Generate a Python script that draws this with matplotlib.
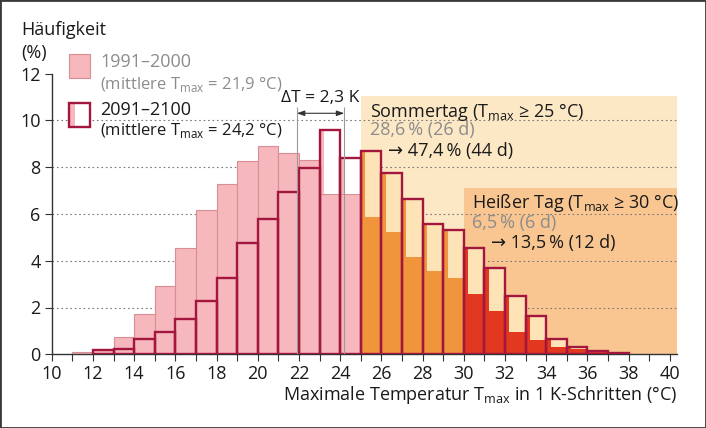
import numpy as np
import matplotlib
matplotlib.use('Agg')
import matplotlib.pyplot as plt
from matplotlib.patches import Rectangle

plt.rcParams['font.family'] = ['Open Sans', 'DejaVu Sans']
plt.rcParams['mathtext.fontset'] = 'custom'
plt.rcParams['mathtext.rm'] = 'Open Sans'
plt.rcParams['mathtext.fallback'] = 'stix'

# ─────────────────────────────────────────────
# Data (Häufigkeit in %, 1-K-Klassen, linke Kante)
# ─────────────────────────────────────────────
bin_left = np.arange(11, 38)
freq_1991_2000 = [0.11, 0.24, 0.74, 1.72, 2.92, 4.56, 6.17, 7.29, 8.28, 8.90,
                  8.60, 8.30, 6.87, 6.87, 5.87, 5.23, 4.15, 3.58, 3.26, 2.58,
                  1.84, 0.95, 0.63, 0.31, 0.21, 0.08, 0.02]
freq_2091_2100 = [0.00, 0.18, 0.24, 0.65, 0.97, 1.51, 2.28, 3.28, 4.76, 5.77,
                  6.94, 7.95, 9.60, 8.39, 8.70, 7.74, 6.62, 5.56, 5.31, 4.56,
                  3.70, 2.49, 1.62, 0.64, 0.33, 0.14, 0.07]
mean_old, mean_new = 21.9, 24.2
summer_thr, hot_thr = 25, 30

# ─────────────────────────────────────────────
# Farben
# ─────────────────────────────────────────────
PINK, PINK_EDGE = '#f6b8bc', '#d98e96'
ORANGE, RED = '#f0953c', '#e2381f'
CRIMSON = '#a3173e'
CREAM = '#fde3b6'
BG_SUMMER, BG_HOT = '#fde8c6', '#f9c691'
GREY_TXT = '#8c8c8c'
AX_COL = '#333333'

W, H = 706, 428
fig = plt.figure(figsize=(W / 100, H / 100), dpi=100)
ax = fig.add_axes([51.7 / W, 1 - 354.3 / H, (677 - 51.7) / W, (354.3 - 73.5) / H])

x = bin_left.astype(float)
hist = np.array(freq_1991_2000)
fut = np.array(freq_2091_2100)

base_col = [PINK if b < summer_thr else (ORANGE if b < hot_thr else RED) for b in bin_left]
edge_col = [PINK_EDGE if b < summer_thr else c for b, c in zip(bin_left, base_col)]
top_fill = ['white' if b < summer_thr else CREAM for b in bin_left]

# Hintergrund Sommertag / Heißer Tag
ax.add_patch(Rectangle((summer_thr, 0), 40.35 - summer_thr, 11.04, color=BG_SUMMER, lw=0, zorder=0.5))
ax.add_patch(Rectangle((hot_thr, 0), 40.35 - hot_thr, 7.1, color=BG_HOT, lw=0, zorder=0.6))

# Gitterlinien
ax.hlines([2, 4, 6, 8, 10], 10, 40.35, colors='#7a7a7a', linestyles=(0, (1.5, 2.5)), lw=0.8, zorder=1)

# Balken
ax.bar(x, hist, 1, align='edge', color=base_col, edgecolor=edge_col, lw=0.8, zorder=2)
upper = np.maximum(fut - hist, 0)
ax.bar(x, upper, 1, bottom=hist, align='edge', color=base_col, lw=0, zorder=2.1)
ax.bar(x + 0.22, upper, 0.78, bottom=hist, align='edge', color=top_fill, lw=0, zorder=2.2)
m = fut > 0
ax.bar(x[m], fut[m], 1, align='edge', fill=False, edgecolor=CRIMSON, lw=1.7, zorder=3)

# ΔT
ax.vlines([mean_old, mean_new], 0, 10.55, colors='#9a9a9a', lw=0.8, zorder=4)
ax.annotate('', xy=(mean_old, 10.3), xytext=(mean_new, 10.3),
            arrowprops=dict(arrowstyle='<|-|>,head_length=0.45,head_width=0.16',
                            color=AX_COL, lw=0.8, shrinkA=0, shrinkB=0), zorder=5)
ax.text((mean_old + mean_new) / 2, 10.94, '\u0394T = 2,3 K', ha='center', va='center', fontsize=12.5, color='#1a1a1a')

# Beschriftungen der Bereiche
fs = 13
ax.text(25.45, 10.37, r'Sommertag (T$_{\mathrm{max}}$ ≥ 25 °C)', ha='left', va='center', fontsize=fs, color='#1a1a1a', zorder=6)
ax.text(25.45, 9.59, '28,6\u2009% (26 d)', ha='left', va='center', fontsize=fs, color=GREY_TXT, zorder=6)
ax.text(26.3, 8.69, '\u2192 47,4\u2009% (44 d)', ha='left', va='center', fontsize=fs, color='#1a1a1a', zorder=6)
ax.text(30.4, 6.47, r'Heißer Tag (T$_{\mathrm{max}}$ ≥ 30 °C)', ha='left', va='center', fontsize=fs, color='#1a1a1a', zorder=6)
ax.text(30.4, 5.61, '6,5\u2009% (6 d)', ha='left', va='center', fontsize=fs, color=GREY_TXT, zorder=6)
ax.text(31.3, 4.76, '\u2192 13,5\u2009% (12 d)', ha='left', va='center', fontsize=fs, color='#1a1a1a', zorder=6)

# Achsen
ax.set_xlim(10, 40.35)
ax.set_ylim(0, 12)
for s in ['top', 'right']:
    ax.spines[s].set_visible(False)
for s in ['left', 'bottom']:
    ax.spines[s].set_color(AX_COL)
    ax.spines[s].set_linewidth(1.0)
ax.set_xticks(np.arange(10, 41, 2))
ax.set_xticks(np.arange(10, 41, 1), minor=True)
ax.set_yticks(np.arange(0, 13, 2))
ax.tick_params(axis='both', which='both', direction='out', color=AX_COL, width=0.8, labelsize=13, labelcolor='#1a1a1a')
ax.tick_params(axis='x', which='both', length=5, pad=3)
ax.tick_params(axis='y', length=5, pad=3)


def fx(px):
    return px / W


def fy(py):
    return 1 - py / H


fig.text(fx(677), fy(395), r'Maximale Temperatur T$_{\mathrm{max}}$ in 1 K-Schritten (°C)',
         ha='right', va='center', fontsize=13, color='#1a1a1a')
fig.text(fx(21), fy(30), 'Häufigkeit', ha='left', va='center', fontsize=13, color='#1a1a1a')
fig.text(fx(21), fy(53), '(%)', ha='left', va='center', fontsize=13, color='#1a1a1a')

# Legende
fig.add_artist(Rectangle((fx(69), fy(78)), 21 / W, 24 / H, transform=fig.transFigure,
                         facecolor=PINK, edgecolor=PINK_EDGE, lw=0.8))
fig.add_artist(Rectangle((fx(69), fy(127)), 21 / W, 24 / H, transform=fig.transFigure,
                         facecolor='white', edgecolor='none'))
fig.add_artist(Rectangle((fx(69), fy(127)), 6 / W, 24 / H, transform=fig.transFigure,
                         facecolor=PINK, edgecolor='none'))
fig.add_artist(Rectangle((fx(69), fy(127)), 21 / W, 24 / H, transform=fig.transFigure,
                         fill=False, edgecolor=CRIMSON, lw=1.7))
fig.text(fx(100), fy(62), '1991–2000', ha='left', va='center', fontsize=13, color=GREY_TXT)
fig.text(fx(100), fy(84), r'(mittlere T$_{\mathrm{max}}$ = 21,9 °C)', ha='left', va='center', fontsize=12, color=GREY_TXT)
fig.text(fx(100), fy(110), '2091–2100', ha='left', va='center', fontsize=13, color='#1a1a1a')
fig.text(fx(100), fy(131), r'(mittlere T$_{\mathrm{max}}$ = 24,2 °C)', ha='left', va='center', fontsize=12, color='#1a1a1a')

# Rahmen
fig.add_artist(Rectangle((0, 0), 1, 1, transform=fig.transFigure, fill=False, edgecolor='#3a3a3a', lw=2))

fig.savefig('out.png', dpi=100)
